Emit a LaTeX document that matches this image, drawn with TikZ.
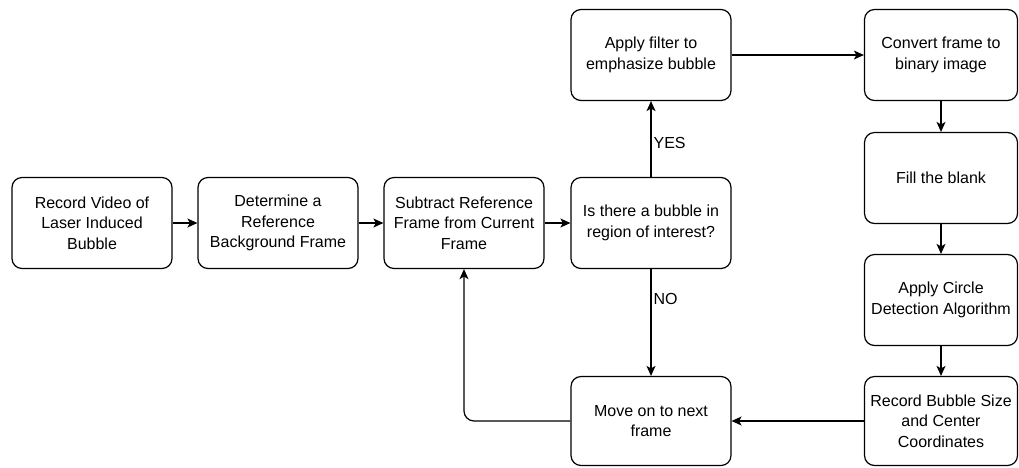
\documentclass[tikz,border=0pt]{standalone}
\usepackage{fontspec}
\setmainfont{Liberation Sans}
\usetikzlibrary{arrows.meta}
\begin{document}
\begin{tikzpicture}[x=1pt,y=-1pt,
  box/.style={draw, line width=1.2pt, rounded corners=10pt, minimum width=160pt, minimum height=91pt, align=center, inner sep=2pt, font=\fontsize{16}{20.5}\selectfont},
  conn/.style={line width=1.2pt, -{Stealth[length=10pt,width=9pt,inset=2.5pt]}},
  lbl/.style={font=\fontsize{16}{20.5}\selectfont, inner sep=0pt, anchor=west}]
\useasboundingbox (0,0) rectangle (1019,467);
\node[box] (b1) at (92,223) {Record Video of\\Laser Induced\\Bubble};
\node[box] (b2) at (278,223) {Determine a\\Reference\\Background Frame};
\node[box] (b3) at (464,223) {Subtract Reference\\Frame from Current\\Frame};
\node[box] (b4) at (651,223) {Is there a bubble in\\region of interest?};
\node[box] (b5) at (651,55) {Apply filter to\\emphasize bubble};
\node[box, minimum width=153pt] (b6) at (941,55) {Convert frame to\\binary image};
\node[box, minimum width=153pt] (b7) at (941,178) {Fill the blank};
\node[box, minimum width=153pt] (b8) at (941,300) {Apply Circle\\Detection Algorithm};
\node[box, minimum width=153pt, minimum height=89pt] (b9) at (941,421) {Record Bubble Size\\and Center\\Coordinates};
\node[box, minimum height=89pt] (b10) at (651,421) {Move on to next\\frame};
\draw[conn] (b1) -- (b2);
\draw[conn] (b2) -- (b3);
\draw[conn] (b3) -- (b4);
\draw[conn] (b4) -- (b5) node[lbl, pos=0.45, xshift=2pt] (yes) {YES};
\draw[conn] (b5) -- (b6);
\draw[conn] (b6) -- (b7);
\draw[conn] (b7) -- (b8);
\draw[conn] (b8) -- (b9);
\draw[conn] (b9) -- (b10);
\draw[conn] (b4) -- (b10) node[lbl, pos=0.28, xshift=2pt] (no) {NO};
\draw[conn, rounded corners=10pt] (b10.west) -| (b3.south);
\end{tikzpicture}
\end{document}
